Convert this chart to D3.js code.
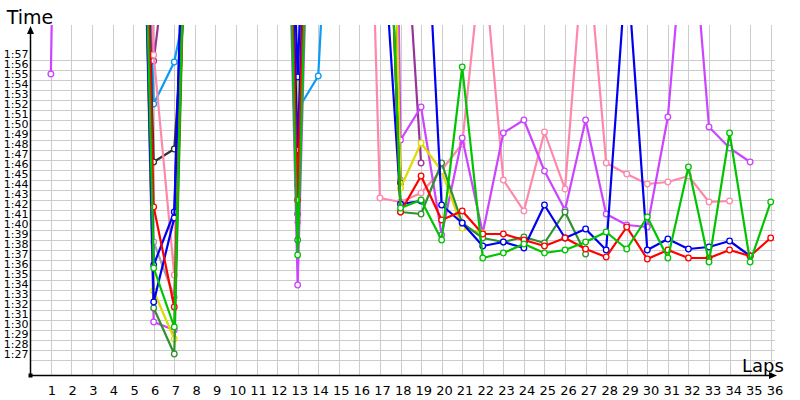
<!DOCTYPE html>
<head>
  <meta charset="utf-8">
  <script src="https://d3js.org/d3.v7.min.js"></script>
  <style>
    body { margin: 0; background: #ffffff; }
    text { font-family: "DejaVu Sans", Verdana, sans-serif; }
  </style>
</head>

<body>
  <div id="chart"></div>

  <script>
    // Laps on the x axis
    var laps = [1, 2, 3, 4, 5, 6, 7, 8, 9, 10, 11, 12, 13, 14, 15, 16, 17, 18,
                19, 20, 21, 22, 23, 24, 25, 26, 27, 28, 29, 30, 31, 32, 33, 34, 35, 36];

    // Labels on the time axis
    var timeTicks = ["1:27", "1:28", "1:29", "1:30", "1:31", "1:32", "1:33", "1:34", "1:35", "1:36",
                     "1:37", "1:38", "1:39", "1:40", "1:41", "1:42", "1:43", "1:44", "1:45", "1:46",
                     "1:47", "1:48", "1:49", "1:50", "1:51", "1:52", "1:53", "1:54", "1:55", "1:56", "1:57"];

    // Lap times per driver (values above 2:00 are off the top of the chart)
    var red = ["2:10","2:55","3:00","3:00","3:05","1:42.3","1:32.3","2:45","3:00","3:00",
               "3:00","3:00","1:43.0","2:55","3:00","3:00","2:40","1:41.8","1:45.4","1:41.0",
               "1:41.9","1:39.6","1:39.6","1:39.0","1:38.4","1:39.2","1:38.1","1:37.3","1:40.3","1:37.1",
               "1:38.0","1:37.2","1:37.2","1:38.0","1:37.4","1:39.2"];
    var blueA = ["2:12","2:55","3:00","3:00","3:00","1:36.5","1:41.8","2:50","3:00","3:00",
                 "3:00","3:00","1:55.3","2:50","3:00","3:00","2:14.6","1:42.6","1:42.9",null,
                 null,null,null,null,null,null,null,null,null,null,
                 null,null,null,null,null,null];
    var blueB = ["2:12","2:55","3:00","3:00","3:00","1:32.8","1:41.2","2:50","3:00","3:00",
                 "3:00","3:00","1:48.0","2:50","3:00","3:00","3:00","3:00","2:22.5","1:42.5",
                 "1:40.7","1:38.4","1:38.8","1:38.2","1:42.5","1:39.2","1:40.1","1:38.0","2:07.0","1:38.0",
                 "1:39.1","1:38.1","1:38.3","1:38.9","1:37.4",null];
    var green = ["2:12","2:55","3:00","3:00","3:00","1:36.2","1:30.3","2:50","3:00","3:00",
                 "3:00","3:00","1:37.5","2:50","3:00","3:00","2:40","1:42.2","1:43.0","1:39.0",
                 "1:56.3","1:37.2","1:37.7","1:38.6","1:37.7","1:38.0","1:38.8","1:39.8","1:38.1","1:41.3",
                 "1:37.2","1:46.3","1:36.8","1:49.7","1:36.8","1:42.8"];
    var darkGreen = ["2:12","2:55","3:00","3:00","3:00","1:32.2","1:27.6","2:50","3:00","3:00",
                     "3:00","3:00","1:39.0","2:50","3:00","3:00","2:40","1:41.8","1:41.6","1:46.7",
                     "1:40.7","1:39.2","1:38.8","1:39.3","1:38.7","1:41.8","1:37.6",null,null,null,
                     null,null,null,null,null,null];
    var yellow = ["2:12","2:55","3:00","3:00","3:00","1:33.9","1:29.1","2:50","3:00","3:00",
                  "3:00","3:00","1:51.4","2:50","3:00","3:00","3:25","1:44.2","1:48.7","1:45.9",
                  "1:40.2","1:39.7",null,null,null,null,null,null,null,null,
                  null,null,null,null,null,null];
    var pink = ["2:12","2:55","3:00","3:00","3:00","1:57.5","1:35.5","2:50","3:00","3:00",
                "3:00","3:00","1:40.8","2:50","3:00","2:55","1:43.2","1:42.8","1:43.7","1:46.0",
                "1:48.6","2:08.3","1:45.0","1:41.9","1:49.8","1:44.1","2:10.6","1:46.7","1:45.6","1:44.6",
                "1:44.8","1:45.4","1:42.8","1:42.9",null,null];
    var violet = ["1:55.6","4:00","3:00","3:00","3:00","1:30.8","1:30.0","2:50","3:00","3:00",
                  "3:00","3:00","1:34.5","2:50","3:00","3:00","4:12","1:49.0","1:52.3","1:39.5",
                  "1:49.2","1:39.7","1:49.7","1:51.0","1:45.9","1:42.0","1:51.0","1:41.6","1:40.5","1:40.3",
                  "1:51.3","2:15.5","1:50.3","1:48.2","1:46.8",null];
    var purple = ["2:12","2:55","3:00","3:00","3:00","1:56.9","2:14.0","2:50","3:00","3:00",
                  "3:00","3:00","1:41.6","2:50","3:00","3:00","3:00","2:18.8","1:46.7",null,
                  null,null,null,null,null,null,null,null,null,null,
                  null,null,null,null,null,null];
    var lightBlue = ["2:12","2:55","3:00","3:00","3:00","1:52.6","1:56.8","2:07.0","3:00","3:00",
                     "3:00","3:00","1:52.0","1:55.4","2:34.5","3:00",null,null,null,null,
                     null,null,null,null,null,null,null,null,null,null,
                     null,null,null,null,null,null];
    var black = ["2:12","2:55","3:00","3:00","3:00","1:46.8","1:48.1","2:18.4","3:00","3:00",
                 "3:00","3:00","1:44.5","2:50","3:00","3:00","3:20","1:44.7",null,null,
                 null,null,null,null,null,null,null,null,null,null,
                 null,null,null,null,null,null];
    var gray = ["2:12","2:55","3:00","3:00","3:00","1:38.8","1:33.3","2:50","3:00","3:00",
                "3:00","3:00","1:46.0","2:50","3:00","3:00","3:20","1:45.0",null,null,
                null,null,null,null,null,null,null,null,null,null,
                null,null,null,null,null,null];

    // Drawing order and colours
    var drivers = [
      { times: gray,      colour: "#a0a0a0" },
      { times: lightBlue, colour: "#0a9bf5" },
      { times: black,     colour: "#333333" },
      { times: purple,    colour: "#993399" },
      { times: pink,      colour: "#ff88aa" },
      { times: violet,    colour: "#cc44ff" },
      { times: yellow,    colour: "#dddd00" },
      { times: darkGreen, colour: "#2f922f" },
      { times: blueA,     colour: "#0000f0" },
      { times: blueB,     colour: "#0000f0" },
      { times: red,       colour: "#ff0000" },
      { times: green,     colour: "#00c400" }
    ];

    function toSeconds(s) {
      if (s === null) return null;
      var parts = s.split(":");
      return +parts[0] * 60 + +parts[1];
    }

    var width = 800, height = 400;
    var plotLeft = 30, plotRight = 775, plotTop = 25, plotBottom = 375;

    var x = d3.scaleLinear().domain([0, 36]).range([30.3, 770.7]);
    // the lap numbers drift slightly right of the grid, as in the original
    var xLabel = d3.scaleLinear().domain([0, 36]).range([31.3, 775]);
    var y = d3.scaleLinear().domain([85.5, 120.5]).range([plotBottom, plotTop]);

    var svg = d3.select("#chart").append("svg")
        .attr("width", width)
        .attr("height", height);

    svg.append("defs").append("clipPath")
        .attr("id", "plot")
      .append("rect")
        .attr("x", plotLeft)
        .attr("y", plotTop)
        .attr("width", plotRight - plotLeft + 4)
        .attr("height", plotBottom - plotTop);

    // Grid
    svg.append("g").selectAll("line")
        .data(laps)
      .enter().append("line")
        .attr("x1", function(d) { return Math.round(x(d)) + 0.5; })
        .attr("x2", function(d) { return Math.round(x(d)) + 0.5; })
        .attr("y1", plotTop)
        .attr("y2", plotBottom)
        .style("stroke", "#cccccc")
        .style("stroke-width", 1);

    svg.append("g").selectAll("line")
        .data(timeTicks)
      .enter().append("line")
        .attr("x1", plotLeft)
        .attr("x2", plotRight)
        .attr("y1", function(d) { return Math.round(y(toSeconds(d))) + 0.5; })
        .attr("y2", function(d) { return Math.round(y(toSeconds(d))) + 0.5; })
        .style("stroke", "#cccccc")
        .style("stroke-width", 1);

    // Tick labels
    svg.append("g").selectAll("text")
        .data(timeTicks)
      .enter().append("text")
        .attr("x", plotLeft - 1.5)
        .attr("y", function(d) { return y(toSeconds(d)) - 2; })
        .attr("text-anchor", "end")
        .style("font-size", "11px")
        .text(function(d) { return d; });

    svg.append("g").selectAll("text")
        .data(laps)
      .enter().append("text")
        .attr("x", function(d) { return xLabel(d); })
        .attr("y", 395)
        .attr("text-anchor", "middle")
        .style("font-size", "13px")
        .text(function(d) { return d; });

    // Lines and markers
    var line = d3.line()
        .defined(function(d) { return d.t !== null; })
        .x(function(d) { return x(d.lap); })
        .y(function(d) { return y(d.t); });

    var plot = svg.append("g").attr("clip-path", "url(#plot)");

    drivers.forEach(function(drv) {
      var pts = laps.map(function(lap, i) { return { lap: lap, t: toSeconds(drv.times[i]) }; });

      plot.append("path")
          .datum(pts)
          .attr("d", line)
          .style("fill", "none")
          .style("stroke", drv.colour)
          .style("stroke-width", 2.2)
          .style("stroke-linejoin", "round");

      plot.selectAll(null)
          .data(pts.filter(function(d) { return d.t !== null && d.t < 120.5; }))
        .enter().append("circle")
          .attr("cx", function(d) { return x(d.lap); })
          .attr("cy", function(d) { return y(d.t); })
          .attr("r", 2.8)
          .style("fill", "#ffffff")
          .style("stroke", drv.colour)
          .style("stroke-width", 1.3);
    });

    // Axes
    svg.append("line")
        .attr("x1", plotLeft + 0.5).attr("x2", plotLeft + 0.5)
        .attr("y1", plotTop + 4).attr("y2", plotBottom)
        .style("stroke", "#000000").style("stroke-width", 1.5);
    svg.append("line")
        .attr("x1", plotLeft).attr("x2", plotRight - 2)
        .attr("y1", plotBottom + 0.5).attr("y2", plotBottom + 0.5)
        .style("stroke", "#000000").style("stroke-width", 1.5);

    svg.append("path")
        .attr("d", "M" + (plotLeft + 0.5) + "," + (plotTop + 1) + "l-3.5,8h7z")
        .style("fill", "#000000");
    svg.append("path")
        .attr("d", "M" + (plotRight + 2) + "," + (plotBottom + 0.5) + "l-8,-3.5v7z")
        .style("fill", "#000000");
    svg.append("rect")
        .attr("x", plotLeft - 1.5).attr("y", plotBottom - 1.5)
        .attr("width", 4).attr("height", 4)
        .style("fill", "#000000");

    // Axis titles
    svg.append("text")
        .attr("x", plotLeft)
        .attr("y", plotTop - 1)
        .attr("text-anchor", "middle")
        .style("font-size", "19px")
        .text("Time");
    svg.append("text")
        .attr("x", 763)
        .attr("y", plotBottom - 3)
        .attr("text-anchor", "middle")
        .style("font-size", "18px")
        .text("Laps");
  </script>
</body>
